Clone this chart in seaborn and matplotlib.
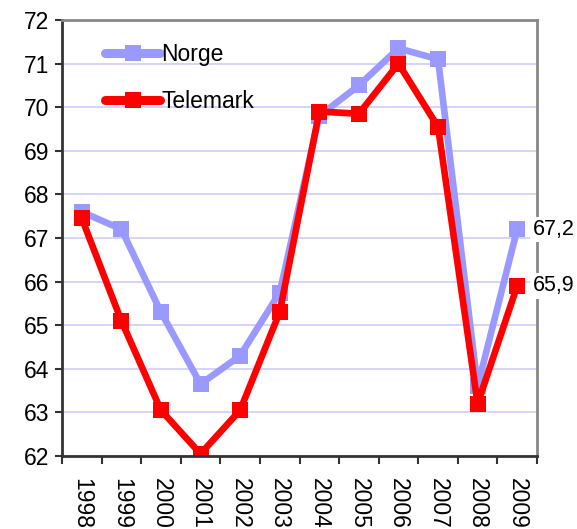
import matplotlib
matplotlib.use("Agg")
import matplotlib.pyplot as plt
import seaborn as sns
import pandas as pd
import numpy as np

years = ["1998", "1999", "2000", "2001", "2002", "2003", "2004", "2005", "2006", "2007", "2008", "2009"]
norge = [67.6, 67.2, 65.3, 63.65, 64.3, 65.75, 69.8, 70.5, 71.35, 71.1, 63.6, 67.2]
telemark = [67.45, 65.1, 63.05, 62.05, 63.05, 65.3, 69.9, 69.85, 71.0, 69.55, 63.2, 65.9]
series = ["Norge", "Telemark"]
colors = ["#9999ff", "#ff0000"]
end_labels = ["67,2", "65,9"]

sns.set_theme(style="white")
plt.rcParams['font.family'] = ['Liberation Sans', 'DejaVu Sans']
plt.rcParams['text.color'] = 'black'
plt.rcParams['xtick.labelcolor'] = 'black'
plt.rcParams['ytick.labelcolor'] = 'black'

df = pd.DataFrame({
    "pos": list(range(len(years))) * 2,
    "value": norge + telemark,
    "series": [series[0]] * len(years) + [series[1]] * len(years),
})

fig = plt.figure(figsize=(5.77, 5.29), dpi=100)
ax = fig.add_axes([62/577, 1 - 456/529, 475/577, 436/529])

sns.lineplot(data=df, x="pos", y="value", hue="series", palette=colors,
             hue_order=series, marker="s", markersize=11, markeredgewidth=0,
             linewidth=4.8, ax=ax, legend=True)

ax.set_xlim(-0.5, len(years) - 0.5)
ax.set_ylim(62, 72)
ax.set_yticks(range(62, 73))
ax.set_yticklabels([str(v) for v in range(62, 73)], fontsize=16.5)
ax.yaxis.grid(True, color="#ccccff", linewidth=1.2)
ax.xaxis.grid(False)
ax.set_axisbelow(True)

ax.set_xticks(range(len(years)))
ax.set_xticklabels(years, rotation=-90, fontsize=16.5, va="top")
ax.set_xticks(np.arange(-0.5, len(years), 1), minor=True)
ax.tick_params(axis="x", which="major", length=0, pad=16)
ax.tick_params(axis="x", which="minor", length=6, width=1.5, color="#333333", bottom=True)
ax.tick_params(axis="y", length=5, width=1.5, color="#333333", left=True, pad=4)
ax.set_xlabel("")
ax.set_ylabel("")

for side in ["left", "bottom"]:
    ax.spines[side].set_color("#333333")
    ax.spines[side].set_linewidth(2)
for side in ["top", "right"]:
    ax.spines[side].set_color("#888888")
    ax.spines[side].set_linewidth(2)

vals = [norge, telemark]
for v, lab in zip(vals, end_labels):
    ax.annotate(lab, (len(years) - 1, v[-1]), xytext=(11, 0), textcoords="offset points",
                fontsize=15.5, va="center", ha="left", annotation_clip=False, color="black",
                bbox=dict(facecolor="white", edgecolor="none", pad=1.5), zorder=10)

leg = ax.legend(loc="upper left", bbox_to_anchor=(0.048, 0.995), frameon=False,
                fontsize=16.5, handlelength=2.4, handletextpad=0.05, labelspacing=1.05)
for h in leg.legend_handles:
    h.set_linewidth(6.5)
    h.set_markersize(12)

fig.savefig("out.png", dpi=100)
